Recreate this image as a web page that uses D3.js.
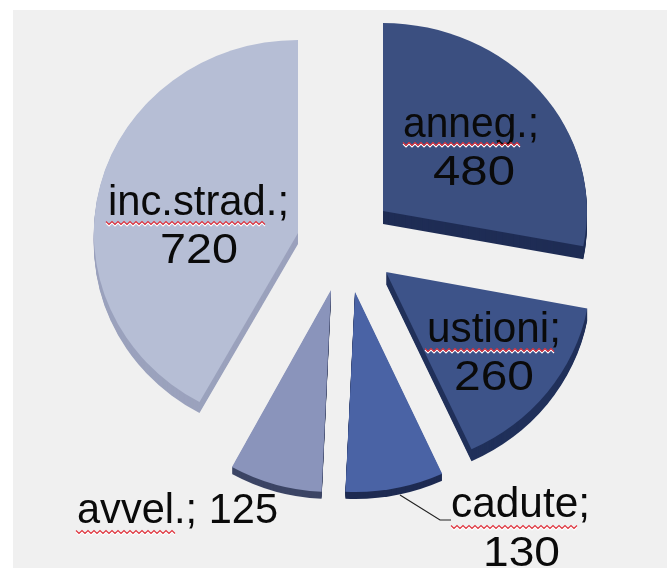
<!DOCTYPE html>
<html>
  <head>
    <meta charset="utf-8">
    <title>torta</title>
    <script src="https://d3js.org/d3.v7.min.js"></script>
    <style>
      html, body { margin: 0; padding: 0; background: #fff; }
      svg { display: block; }
      text { font-family: "Liberation Sans", Arial, sans-serif; fill: #0a0a0a; }
    </style>
  </head>
  <body>
    <div id="chart"></div>
    <script type="text/javascript">

      var names = ["anneg.", "ustioni", "cadute", "avvel.", "inc.strad."];
      var values = [480, 260, 130, 125, 720];

      var topColors = ["#3b4f80", "#3d5389", "#4a63a5", "#8a94bb", "#b6bed5"];
      var wallColors = ["#1f2d55", "#20305a", "#1e2b52", "#3c4565", "#9ba2bd"];

      // every slice is pulled away on its own, lower ones look bigger (perspective)
      var sliceLayout = [
        {cx: 383, cy: 211, rx: 204, ry: 188, depth: 13},
        {cx: 386, cy: 272, rx: 205, ry: 195, depth: 12},
        {cx: 355, cy: 292, rx: 209, ry: 200, depth: 7},
        {cx: 331, cy: 290, rx: 205, ry: 202, depth: 7},
        {cx: 298, cy: 233, rx: 204, ry: 193, depth: 11}
      ];

      // one entry per text line: w is the width it takes in the picture
      var labelLayout = [
        {i: 0, line: "name", x: 403, y: 137, w: 136, wave: [403, 522, 144]},
        {i: 0, line: "value", x: 433, y: 185, w: 82},
        {i: 1, line: "name", x: 427, y: 342, w: 134, wave: [425, 555, 350]},
        {i: 1, line: "value", x: 454, y: 390, w: 80},
        {i: 2, line: "name", x: 451, y: 517, w: 139, wave: [451, 580, 527]},
        {i: 2, line: "value", x: 483, y: 566, w: 77},
        {i: 3, line: "both", x: 77, y: 523, w: 201, wave: [76, 176, 532]},
        {i: 4, line: "name", x: 108, y: 215, w: 181, wave: [106, 266, 223]},
        {i: 4, line: "value", x: 160, y: 263, w: 78}
      ];

      var width = 667, height = 568;

      var svg = d3.select("#chart")
          .append("svg")
          .attr("width", width)
          .attr("height", height);

      svg.append("rect")
        .attr("x", 13)
        .attr("y", 10)
        .attr("width", width - 13)
        .attr("height", height - 10)
        .attr("fill", "#f0f0f0");

      var art = svg.append("g").style("filter", "blur(0.6px)");

      var pie = d3.pie().sort(null);
      var arcs = pie(values);
      var arc = d3.arc().innerRadius(0).outerRadius(1);

      arcs.forEach(function(d, i) {
        var s = sliceLayout[i];
        var g = art.append("g").attr("class", "slice");

        // side wall: same slice stacked downwards
        d3.range(s.depth, 0, -1).forEach(function(k) {
          g.append("path")
            .attr("d", arc(d))
            .attr("transform", "translate(" + s.cx + "," + (s.cy + k) + ") scale(" + s.rx + "," + s.ry + ")")
            .attr("fill", wallColors[i]);
        });

        g.append("path")
          .attr("d", arc(d))
          .attr("transform", "translate(" + s.cx + "," + s.cy + ") scale(" + s.rx + "," + s.ry + ")")
          .attr("fill", topColors[i]);
      });

      // leader line of cadute
      art.append("polyline")
        .attr("points", "400,495 440,520 451,520")
        .attr("fill", "none")
        .attr("stroke", "#222")
        .attr("stroke-width", 1.2);

      var wave = d3.line();

      labelLayout.forEach(function(l) {
        var str;
        if (l.line == "name") str = names[l.i] + ";";
        else if (l.line == "value") str = values[l.i];
        else str = names[l.i] + "; " + values[l.i];

        art.append("text")
          .attr("x", l.x)
          .attr("y", l.y)
          .attr("font-size", 42)
          .attr("textLength", l.w)
          .attr("lengthAdjust", "spacingAndGlyphs")
          .text(str);

        if (l.wave) {
          var pts = d3.range(l.wave[0], l.wave[1], 3).map(function(x, k) {
            return [x, l.wave[2] + (k % 2 ? 1.5 : -1.5)];
          });
          art.append("path")
            .attr("d", wave(pts))
            .attr("transform", "translate(0,1.5)")
            .attr("fill", "none")
            .attr("stroke", "#ffffff")
            .attr("stroke-width", 1.2);
          art.append("path")
            .attr("d", wave(pts))
            .attr("fill", "none")
            .attr("stroke", "#e0323c")
            .attr("stroke-width", 1.1);
        }
      });

    </script>
  </body>
</html>
